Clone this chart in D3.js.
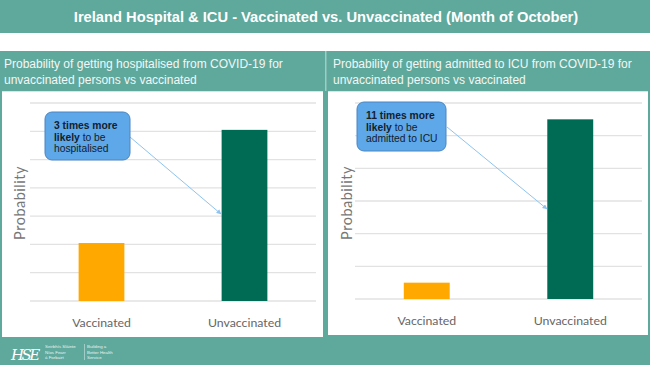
<!DOCTYPE html>
<html><head><meta charset="utf-8">
<script src="https://cdn.jsdelivr.net/npm/d3@7"></script>
<style>body{margin:0;background:#fff}svg{display:block}</style>
</head><body>
<script>
const categories = ["Vaccinated", "Unvaccinated"];
const hospValues = [2.05, 6.05];
const icuValues = [0.5, 5.5];
const hospTicks = [0,1,2,3,4,5,6,7];
const icuTicks = [0,1,2,3,4,5,6];
const title = "Ireland Hospital & ICU - Vaccinated vs. Unvaccinated (Month of October)";
const hospHeader = ["Probability of getting hospitalised from COVID-19 for", "unvaccinated persons vs vaccinated"];
const icuHeader = ["Probability of getting admitted to ICU from COVID-19 for", "unvaccinated persons vs vaccinated"];
const hospCallout = [[["3 times more", true]], [["likely", true], [" to be", false]], [["hospitalised", false]]];
const icuCallout = [[["11 times more", true]], [["likely", true], [" to be", false]], [["admitted to ICU", false]]];

const W = 650, H = 365, TEAL = "#5fa89c";
const svg = d3.select("body").append("svg").attr("width", W).attr("height", H);
svg.append("rect").attr("width", W).attr("height", H).attr("fill", TEAL);
svg.append("rect").attr("x", 0).attr("y", 33).attr("width", W).attr("height", 18).attr("fill", "#fff");
svg.append("text").attr("x", 326).attr("y", 22).attr("text-anchor", "middle")
  .attr("font-family", "Liberation Sans, Arial, sans-serif").attr("font-weight", "bold")
  .attr("font-size", 14.7).attr("fill", "#fff").text(title);
// panel divider
svg.append("rect").attr("x", 325).attr("y", 51).attr("width", 1.5).attr("height", 40).attr("fill", "#9fccc4");

function panel(opt) {
  const g = svg.append("g");
  opt.header.forEach((t, i) => {
    g.append("text").attr("x", opt.hx).attr("y", 68 + i * 15.5)
      .attr("font-family", "Liberation Sans, Arial, sans-serif").attr("font-size", 12)
      .attr("fill", "#f2f7f6").text(t);
  });
  g.append("rect").attr("x", opt.ax).attr("y", 91).attr("width", opt.aw).attr("height", opt.ah).attr("fill", "#fff");
  g.append("line").attr("x1", opt.ax).attr("x2", opt.ax + opt.aw).attr("y1", 91.5).attr("y2", 91.5).attr("stroke", "#d8e6e3");

  const x = d3.scaleBand().domain(categories).range([opt.x0, opt.x1]).paddingInner(0.68).paddingOuter(0.34);
  const y = d3.scaleLinear().domain([0, d3.max(opt.ticks)]).range([opt.base, 103]);
  g.selectAll(".grid").data(opt.ticks).enter().append("line")
    .attr("x1", opt.x0).attr("x2", opt.x1)
    .attr("y1", d => y(d)).attr("y2", d => y(d))
    .attr("stroke", "#e2e2e2").attr("stroke-width", 1.3);
  const colors = ["#ffa800", "#006b55"];
  g.selectAll(".bar").data(opt.values).enter().append("rect")
    .attr("x", (d, i) => x(categories[i])).attr("width", x.bandwidth())
    .attr("y", d => y(d)).attr("height", d => y(0) - y(d))
    .attr("fill", (d, i) => colors[i]);
  const ax = d3.axisBottom(x).tickSize(0).tickPadding(0);
  const axg = g.append("g").attr("transform", `translate(0,${opt.base + 26})`).call(ax);
  axg.select(".domain").remove();
  axg.selectAll("text").attr("font-family", "Lato, sans-serif").attr("font-size", 12.3).attr("fill", "#666").attr("dy", 0);
  g.append("text").attr("transform", `translate(${opt.lx},203) rotate(-90)`).attr("text-anchor", "middle")
    .attr("font-family", "Lato, sans-serif").attr("font-size", 14.5).attr("letter-spacing", 0.5).attr("fill", "#777").text("Probability");
  g.append("line").attr("x1", opt.arrowFrom[0]).attr("y1", opt.arrowFrom[1]).attr("x2", opt.arrowTo[0]).attr("y2", opt.arrowTo[1])
    .attr("stroke", "#8fc3ee").attr("stroke-width", 1).attr("marker-end", "url(#ah)");
  g.append("rect").attr("x", opt.cb[0]).attr("y", opt.cb[1]).attr("width", opt.cb[2]).attr("height", opt.cb[3])
    .attr("rx", 7).attr("fill", "#5ea7e8").attr("stroke", "#4a86c2").attr("stroke-width", 1);
  opt.callout.forEach((line, i) => {
    const t = g.append("text").attr("x", opt.cb[0] + 9).attr("y", opt.ty + i * 11.7)
      .attr("font-family", "Liberation Sans, Arial, sans-serif").attr("font-size", 10.3).attr("fill", "#14202c");
    line.forEach(([s, b]) => t.append("tspan").attr("font-weight", b ? "bold" : "normal").text(s));
  });
}

svg.append("defs").append("marker").attr("id", "ah").attr("viewBox", "0 0 10 10").attr("refX", 9).attr("refY", 5)
  .attr("markerWidth", 5).attr("markerHeight", 5).attr("orient", "auto")
  .append("path").attr("d", "M0,0L10,5L0,10z").attr("fill", "#8fc3ee");

panel({header: hospHeader, hx: 4, ax: 2, aw: 321, ah: 246, x0: 30, x1: 316, base: 301,
  ticks: hospTicks, values: hospValues, lx: 25, arrowFrom: [130, 137], arrowTo: [221, 214],
  cb: [45, 112, 85, 48], ty: 129, callout: hospCallout});
panel({header: icuHeader, hx: 333, ax: 328, aw: 320, ah: 244, x0: 355, x1: 642, base: 299,
  ticks: icuTicks, values: icuValues, lx: 352, arrowFrom: [447, 127], arrowTo: [547, 209],
  cb: [357, 102, 89, 49], ty: 119, callout: icuCallout});

// footer logo
const f = svg.append("g");
f.append("text").attr("x", 11).attr("y", 360).attr("font-family", "DejaVu Serif, serif").attr("font-style", "italic")
  .attr("font-size", 15).attr("letter-spacing", -2.5).attr("fill", "#fff").text("HSE");
const col1 = ["Seirbhís Sláinte", "Níos Fearr", "á Forbairt"];
const col2 = ["Building a", "Better Health", "Service"];
col1.forEach((t, i) => f.append("text").attr("x", 45).attr("y", 348 + i * 5.5).attr("font-family", "Liberation Sans, sans-serif").attr("font-size", 4.4).attr("fill", "#e8f3f1").text(t));
col2.forEach((t, i) => f.append("text").attr("x", 87).attr("y", 348 + i * 5.5).attr("font-family", "Liberation Sans, sans-serif").attr("font-size", 4.4).attr("fill", "#e8f3f1").text(t));
f.append("line").attr("x1", 84.5).attr("x2", 84.5).attr("y1", 344).attr("y2", 360).attr("stroke", "#cfe6e2").attr("stroke-width", 0.6);
</script>
</body></html>
